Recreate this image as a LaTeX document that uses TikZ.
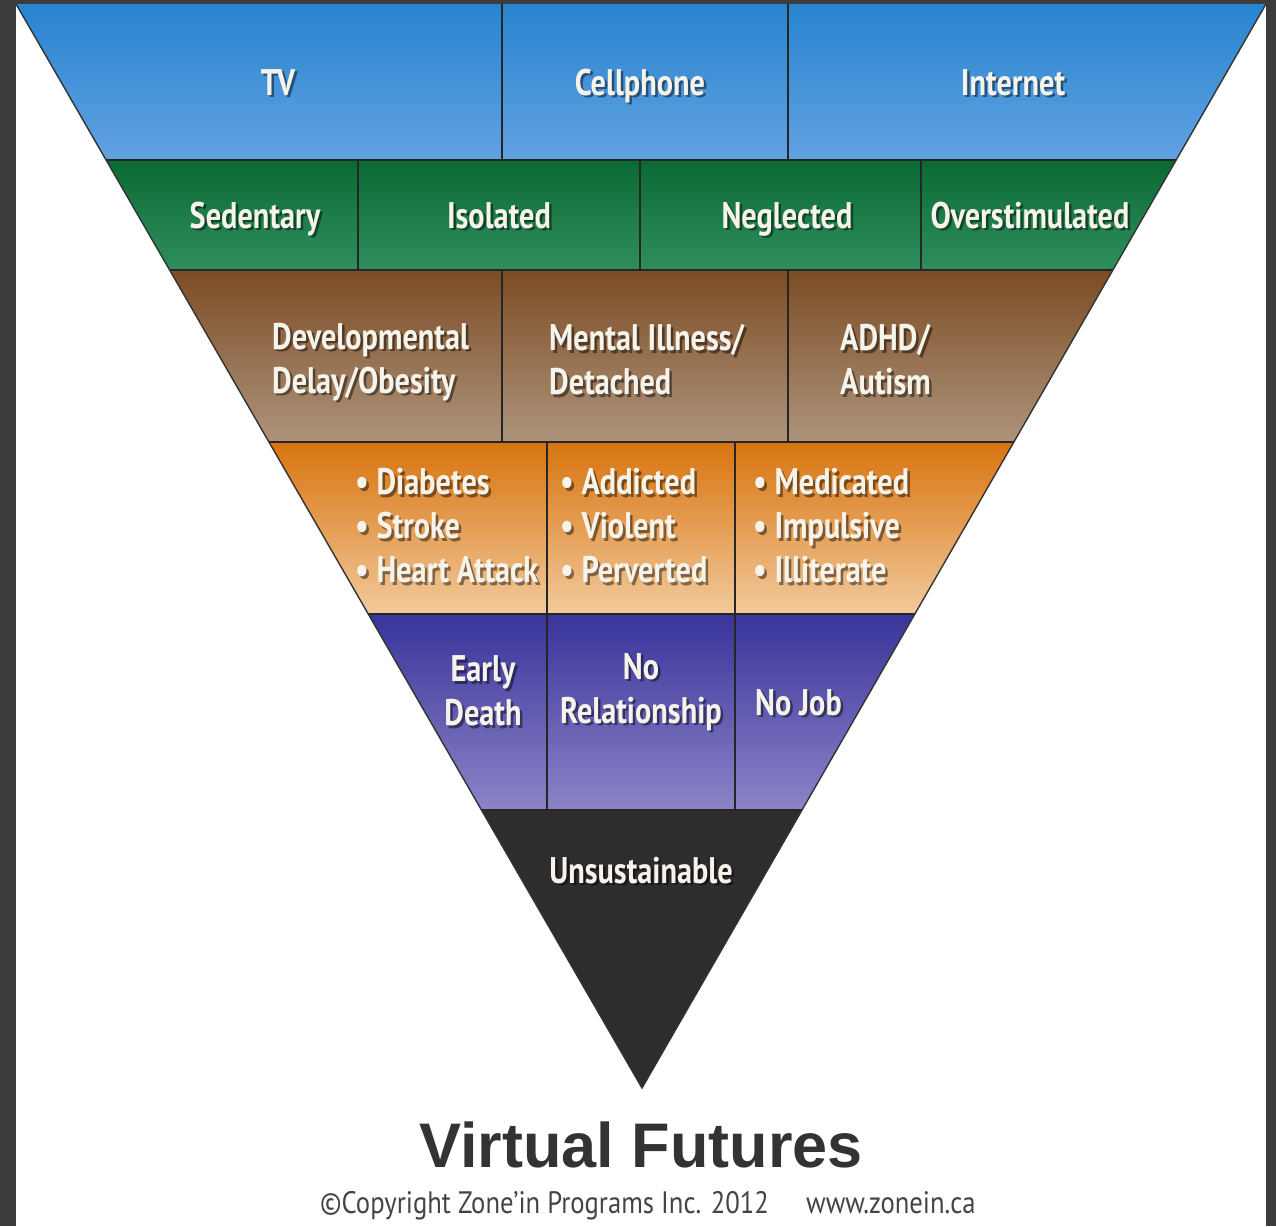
\documentclass[tikz,border=0pt]{standalone}
\usepackage{fontspec}
\setmainfont{PT Sans}
\newfontfamily\labfont[FakeStretch=0.82]{PT Sans}
\newfontfamily\copyfont[FakeStretch=0.86,Numbers=OldStyle]{PT Sans}
\newfontfamily\titlefont{Liberation Sans}
\usetikzlibrary{calc}
\definecolor{frame}{HTML}{3C3C3C}
\definecolor{blueA}{HTML}{2784CF}
\definecolor{blueB}{HTML}{62A2E2}
\definecolor{greenA}{HTML}{0B6A32}
\definecolor{greenB}{HTML}{2F8E5E}
\definecolor{brownA}{HTML}{7C4C24}
\definecolor{brownB}{HTML}{AE947C}
\definecolor{orangeA}{HTML}{D8740F}
\definecolor{orangeB}{HTML}{F2CA9C}
\definecolor{purpleA}{HTML}{38349A}
\definecolor{purpleB}{HTML}{8C84C8}
\definecolor{blk}{HTML}{2E2C2C}
\definecolor{labtext}{HTML}{F6F3EA}
\definecolor{titlegray}{HTML}{333333}
\definecolor{copygray}{HTML}{444444}
\tikzset{
  divline/.style={draw=black!85, line width=1.6pt},
  edgeline/.style={draw=black!80, line width=1.4pt, line join=miter},
  lab/.style={text=labtext, font=\labfont\bfseries\fontsize{37}{44}\selectfont, inner sep=0pt},
  labsh/.style={lab, text=black, text opacity=0.45},
  foot/.style={text=copygray, font=\copyfont\fontsize{31}{31}\selectfont, inner sep=0pt, anchor=base west},
}
\newcommand\lab[4][]{%
  \node[labsh,#1] at ($(#3)+(2.5,2.5)$) {#4};
  \node[lab,#1] (#2) at (#3) {#4};
}
\begin{document}
\begin{tikzpicture}[x=1pt,y=-1pt]
\useasboundingbox (0,0) rectangle (1276,1226);
\fill[frame] (0,0) rectangle (1276,1226);
\fill[white] (16,4) rectangle (1266,1226);
% corner coordinates
\coordinate (L0) at (16,4);     \coordinate (R0) at (1266,4);
\coordinate (L1) at (106.1,160); \coordinate (R1) at (1176.2,160);
\coordinate (L2) at (169.6,270); \coordinate (R2) at (1112.9,270);
\coordinate (L3) at (268.9,442); \coordinate (R3) at (1013.9,442);
\coordinate (L4) at (368.3,614); \coordinate (R4) at (914.9,614);
\coordinate (L5) at (481.5,810); \coordinate (R5) at (802.1,810);
\coordinate (A) at (642,1088);
% bands
\shade[top color=blueA,bottom color=blueB] (L0)--(R0)--(R1)--(L1)--cycle;
\shade[top color=greenA,bottom color=greenB] (L1)--(R1)--(R2)--(L2)--cycle;
\shade[top color=brownA,bottom color=brownB] (L2)--(R2)--(R3)--(L3)--cycle;
\shade[top color=orangeA,bottom color=orangeB] (L3)--(R3)--(R4)--(L4)--cycle;
\shade[top color=purpleA,bottom color=purpleB] (L4)--(R4)--(R5)--(L5)--cycle;
\fill[blk] (L5)--(R5)--(A)--cycle;
% band boundaries
\draw[divline] (L1)--(R1);
\draw[divline] (L2)--(R2);
\draw[divline] (L3)--(R3);
\draw[divline] (L4)--(R4);
\draw[divline] (L5)--(R5);
% dividers
\draw[divline] (502,4)--(502,160);
\draw[divline] (788,4)--(788,160);
\draw[divline] (358,160)--(358,270);
\draw[divline] (640,160)--(640,270);
\draw[divline] (921,160)--(921,270);
\draw[divline] (502,270)--(502,442);
\draw[divline] (788,270)--(788,442);
\draw[divline] (547,442)--(547,614);
\draw[divline] (735,442)--(735,614);
\draw[divline] (547,614)--(547,810);
\draw[divline] (735,614)--(735,810);
% outline
\draw[edgeline] (L0)--(A)--(R0);
% labels
\lab[anchor=base]{tv}{278,95}{TV}
\lab[anchor=base]{cell}{640,95}{Cellphone}
\lab[anchor=base]{inet}{1013,95}{Internet}
\lab[anchor=base]{sed}{255,228}{Sedentary}
\lab[anchor=base]{iso}{499,228}{Isolated}
\lab[anchor=base]{neg}{787,228}{Neglected}
\lab[anchor=base]{over}{1030,228}{Overstimulated}
\lab[align=left,anchor=west]{dev}{272,362}{Developmental\\Delay/Obesity}
\lab[align=left,anchor=west]{ment}{549,360}{Mental Illness/\\Detached}
\lab[align=left,anchor=west]{adhd}{840,360}{ADHD/\\Autism}
\lab[align=left,anchor=west]{dia}{355,526}{• Diabetes\\• Stroke\\• Heart Attack}
\lab[align=left,anchor=west]{add}{560,526}{• Addicted\\• Violent\\• Perverted}
\lab[align=left,anchor=west]{med}{753,526}{• Medicated\\• Impulsive\\• Illiterate}
\lab[align=center]{early}{483,691}{Early\\Death}
\lab[align=center]{norel}{641,692}{No\\Relationship}
\lab[anchor=base west]{nojob}{755,715}{No Job}
\lab[anchor=base]{uns}{641,883}{Unsustainable}
% title and footer
\node[text=titlegray, font=\titlefont\bfseries\fontsize{63}{63}\selectfont, inner sep=0pt] (title) at (641,1145) {Virtual Futures};
\node[foot] (copy) at (320,1213) {©Copyright Zone’in Programs Inc. 2012};
\node[foot] (web) at (806,1213) {www.zonein.ca};
\end{tikzpicture}
\end{document}
